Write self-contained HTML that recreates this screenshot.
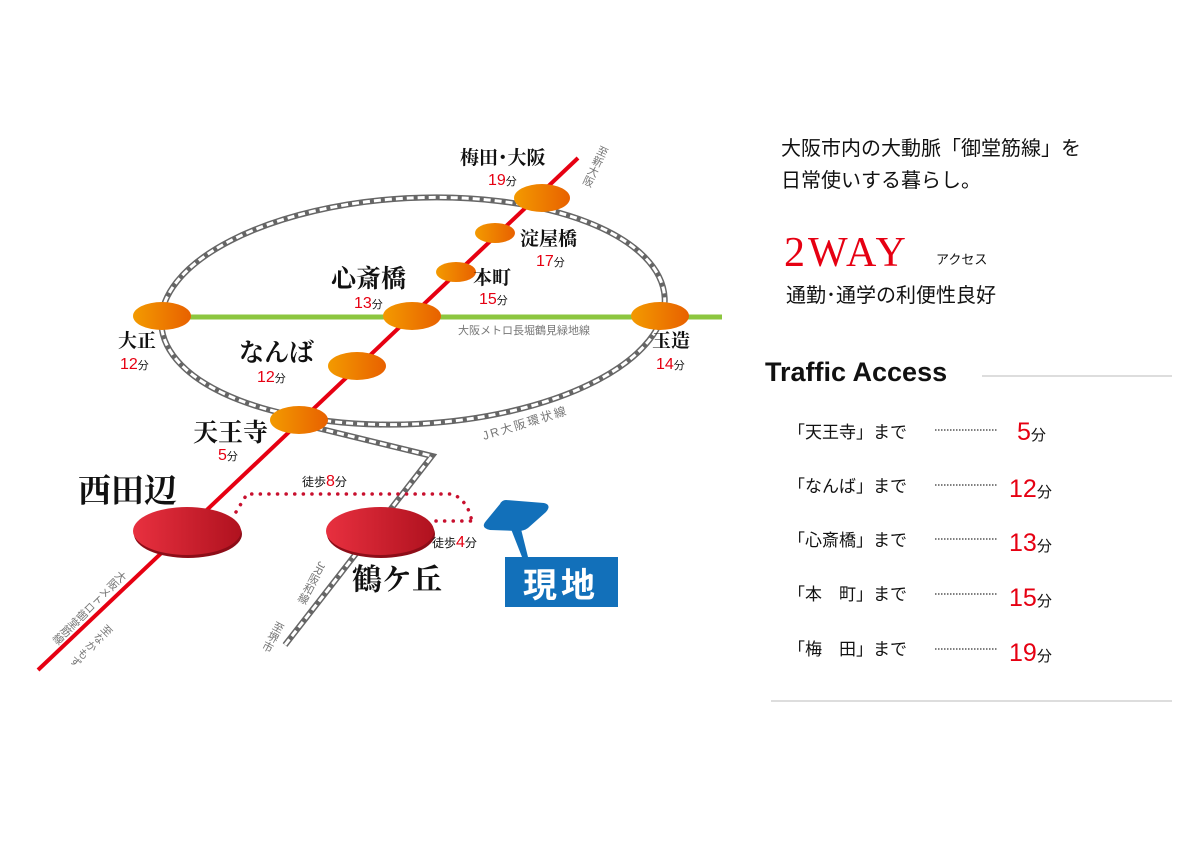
<!DOCTYPE html>
<html><head><meta charset="utf-8"><style>
html,body{margin:0;padding:0;background:#fff;}
svg{display:block;}
.jp{font-family:"Liberation Serif","Noto Serif CJK SC","Noto Sans CJK JP",serif;font-weight:bold;fill:#111;}
.rd{font-family:"Liberation Sans",sans-serif;fill:#e60012;}
.fn{font-family:"Liberation Sans","Noto Sans CJK JP",sans-serif;fill:#111;}
.gr{font-family:"Liberation Sans","Noto Sans CJK JP",sans-serif;fill:#777;}
.vt{writing-mode:vertical-rl;}
</style></head><body>
<svg width="1191" height="842" viewBox="0 0 1191 842" xmlns="http://www.w3.org/2000/svg">
<defs>
<linearGradient id="og" x1="0" x2="1"><stop offset="0" stop-color="#f39a00"/><stop offset="1" stop-color="#e86100"/></linearGradient>
<linearGradient id="rg" x1="0" x2="1"><stop offset="0" stop-color="#e8303f"/><stop offset="1" stop-color="#b0121f"/></linearGradient>
</defs>
<g transform="rotate(-3 413 311)">
<ellipse cx="413" cy="311" rx="252" ry="113" fill="none" stroke="#666" stroke-width="6"/>
<ellipse cx="413" cy="311" rx="252" ry="113" fill="none" stroke="#fff" stroke-width="3" stroke-dasharray="7 4"/>
</g>
<polyline points="305,425 432,456 285,645" fill="none" stroke="#666" stroke-width="6"/>
<polyline points="305,425 432,456 285,645" fill="none" stroke="#fff" stroke-width="3" stroke-dasharray="7 4"/>
<line x1="185" y1="317" x2="722" y2="317" stroke="#8cc63f" stroke-width="5"/>
<line x1="578" y1="158" x2="38" y2="670" stroke="#e60012" stroke-width="4"/>
<path d="M236,512 L247,494 L452,494 Q468,500 472,522" fill="none" stroke="#c8102e" stroke-width="3.5" stroke-dasharray="0.1 8.5" stroke-linecap="round"/>
<path d="M436,521 L475,521" fill="none" stroke="#c8102e" stroke-width="3.5" stroke-dasharray="0.1 8.5" stroke-linecap="round"/>
<g fill="url(#og)">
<ellipse cx="542" cy="198" rx="28" ry="14"/>
<ellipse cx="495" cy="233" rx="20" ry="10"/>
<ellipse cx="456" cy="272" rx="20" ry="10"/>
<ellipse cx="412" cy="316" rx="29" ry="14"/>
<ellipse cx="357" cy="366" rx="29" ry="14"/>
<ellipse cx="299" cy="420" rx="29" ry="14"/>
<ellipse cx="162" cy="316" rx="29" ry="14"/>
<ellipse cx="660" cy="316" rx="29" ry="14"/>
</g>
<ellipse cx="188" cy="534" rx="54" ry="24" fill="#8d0d18"/>
<ellipse cx="187" cy="531" rx="54" ry="24" fill="url(#rg)"/>
<ellipse cx="381" cy="534" rx="54" ry="24" fill="#8d0d18"/>
<ellipse cx="380" cy="531" rx="54" ry="24" fill="url(#rg)"/>
<path d="M506,500 L544,503 Q552,505 546,512 L528,528 Q524,531 518,531 L490,530 Q480,528 486,521 L500,504 Q502,500 506,500 Z" fill="#1270ba"/>
<polygon points="511,529 521,529 528,557 522,557" fill="#1270ba"/>
<rect x="505" y="557" width="113" height="50" fill="#1270ba"/>
<text x="561" y="597" text-anchor="middle" font-family="Liberation Sans,'Noto Sans CJK JP',sans-serif" font-weight="bold" font-size="34" fill="#fff" letter-spacing="4">現地</text>
<text class="jp" x="460" y="164" font-size="19">梅田･大阪</text>
<text class="rd" x="488" y="185" font-size="16">19<tspan class="fn" font-size="11">分</tspan></text>
<text class="jp" x="520" y="245" font-size="19">淀屋橋</text>
<text class="rd" x="536" y="266" font-size="16">17<tspan class="fn" font-size="11">分</tspan></text>
<text class="jp" x="473" y="284" font-size="19">本町</text>
<text class="rd" x="479" y="304" font-size="16">15<tspan class="fn" font-size="11">分</tspan></text>
<text class="jp" x="331" y="287" font-size="25">心斎橋</text>
<text class="rd" x="354" y="308" font-size="16">13<tspan class="fn" font-size="11">分</tspan></text>
<text class="jp" x="239" y="361" font-size="25">なんば</text>
<text class="rd" x="257" y="382" font-size="16">12<tspan class="fn" font-size="11">分</tspan></text>
<text class="jp" x="118" y="347" font-size="19">大正</text>
<text class="rd" x="120" y="369" font-size="16">12<tspan class="fn" font-size="11">分</tspan></text>
<text class="jp" x="652" y="347" font-size="19">玉造</text>
<text class="rd" x="656" y="369" font-size="16">14<tspan class="fn" font-size="11">分</tspan></text>
<text class="jp" x="193" y="441" font-size="25">天王寺</text>
<text class="rd" x="218" y="460" font-size="16">5<tspan class="fn" font-size="11">分</tspan></text>
<text class="jp" x="78" y="502" font-size="33">西田辺</text>
<text class="jp" x="352" y="590" font-size="30">鶴ケ丘</text>
<text class="fn" x="302" y="486" font-size="12">徒歩<tspan class="rd" font-size="16">8</tspan>分</text>
<text class="fn" x="432" y="547" font-size="12">徒歩<tspan class="rd" font-size="16">4</tspan>分</text>
<text class="gr" x="458" y="334" font-size="11">大阪メトロ長堀鶴見緑地線</text>
<text class="gr" x="484" y="440" font-size="12" transform="rotate(-17 484 440)" letter-spacing="2">JR大阪環状線</text>
<text class="gr vt" x="604" y="146" font-size="11" transform="rotate(25 604 146)">至新大阪</text>
<text class="gr vt" x="124" y="572" font-size="11" transform="rotate(45 124 572)">大阪メトロ御堂筋線</text>
<text class="gr vt" x="110" y="626" font-size="11" transform="rotate(45 110 626)">至なかもず</text>
<text class="gr vt" x="322" y="562" font-size="11" transform="rotate(28 322 562)">JR阪和線</text>
<text class="gr vt" x="280" y="622" font-size="11" transform="rotate(28 280 622)">至堺市</text>
<text class="fn" x="781" y="155" font-size="20">大阪市内の大動脈「御堂筋線」を</text>
<text class="fn" x="781" y="187" font-size="20">日常使いする暮らし。</text>
<text x="784" y="266" font-family="Liberation Serif,serif" font-size="42" fill="#e60012" letter-spacing="3">2WAY</text>
<text class="fn" x="936" y="264" font-size="13">アクセス</text>
<text class="fn" x="786" y="302" font-size="20">通勤･通学の利便性良好</text>
<text x="765" y="381" font-family="Liberation Sans,sans-serif" font-weight="bold" font-size="27" fill="#111">Traffic Access</text>
<line x1="982" y1="376" x2="1172" y2="376" stroke="#bbb" stroke-width="1"/>
<g font-size="17">
<text class="fn" x="788" y="438">「天王寺」まで</text>
<text class="fn" x="788" y="492">「なんば」まで</text>
<text class="fn" x="788" y="546">「心斎橋」まで</text>
<text class="fn" x="788" y="600">「本　町」まで</text>
<text class="fn" x="788" y="655">「梅　田」まで</text>
</g>
<g stroke="#333" stroke-width="1.2" stroke-dasharray="1.5 1.5">
<line x1="935" y1="430" x2="998" y2="430"/><line x1="935" y1="485" x2="998" y2="485"/><line x1="935" y1="539" x2="998" y2="539"/><line x1="935" y1="594" x2="998" y2="594"/><line x1="935" y1="649" x2="998" y2="649"/>
</g>
<text class="rd" x="1017" y="440" font-size="25">5<tspan class="fn" font-size="15">分</tspan></text>
<text class="rd" x="1009" y="497" font-size="25">12<tspan class="fn" font-size="15">分</tspan></text>
<text class="rd" x="1009" y="551" font-size="25">13<tspan class="fn" font-size="15">分</tspan></text>
<text class="rd" x="1009" y="606" font-size="25">15<tspan class="fn" font-size="15">分</tspan></text>
<text class="rd" x="1009" y="661" font-size="25">19<tspan class="fn" font-size="15">分</tspan></text>
<line x1="771" y1="701" x2="1172" y2="701" stroke="#bbb" stroke-width="1"/>
</svg>
</body></html>
